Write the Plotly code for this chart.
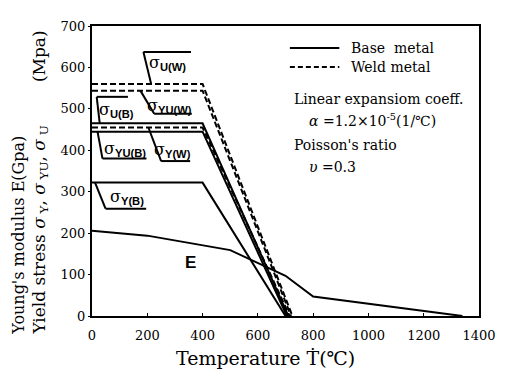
import plotly.graph_objects as go

# ---- data ----
temp_E = [0, 200, 500, 700, 800, 1340]
E_gpa = [206, 194, 159, 97, 47, 0]

stress_names = ["σY(B)", "σYU(B)", "σU(B)", "σY(W)", "σYU(W)", "σU(W)"]
stress_room = [322, 445, 465, 455, 544, 560]      # MPa up to 400 C
stress_knee_T = [400, 400, 400, 400, 400, 400]
stress_zero_T = [700, 705, 710, 715, 720, 725]
stress_kind = ["base", "base", "base", "weld", "weld", "weld"]

x_ticks = [0, 200, 400, 600, 800, 1000, 1200, 1400]
x_ticktext = ["0", "200", "400", "600", "800", "1000", "1200", "1400"]
y_ticks = [0, 100, 200, 300, 400, 500, 600, 700]

SERIF = "DejaVu Serif"
SANS = "Liberation Sans"

fig = go.Figure()

for name, v, tk, tz, kind in zip(stress_names, stress_room, stress_knee_T, stress_zero_T, stress_kind):
    fig.add_trace(go.Scatter(
        x=[0, tk, tz], y=[v, v, 0], mode="lines", name=name, showlegend=False,
        line=dict(color="black", width=2, dash="solid" if kind == "base" else "6px,3px"),
    ))

fig.add_trace(go.Scatter(x=temp_E, y=E_gpa, mode="lines", name="E", showlegend=False,
                         line=dict(color="black", width=2)))

# ---- label callouts (text, text pos, bar, leader) ----
callouts = [
    ("U(W)", 274, 610, (186, 358, 637), (186, 637, 214, 560)),
    ("U(B)", 90, 497, (17, 130, 529), (17, 529, 28, 465)),
    ("YU(W)", 279, 508, (225, 361, 488), (225, 488, 175, 544)),
    ("YU(B)", 118, 402, (38, 197, 380), (38, 380, 20, 445)),
    ("Y(W)", 292, 401, (250, 355, 374), (250, 374, 204, 455)),
    ("Y(B)", 125, 287, (49, 196, 259), (49, 259, 11, 322)),
]
shapes = []
annotations = []
for sub, tx, ty, bar, lead in callouts:
    shapes.append(dict(type="line", xref="x", yref="y", x0=bar[0], x1=bar[1], y0=bar[2], y1=bar[2],
                       line=dict(color="black", width=2)))
    shapes.append(dict(type="line", xref="x", yref="y", x0=lead[0], y0=lead[1], x1=lead[2], y1=lead[3],
                       line=dict(color="black", width=2)))
    annotations.append(dict(
        x=tx, y=ty, xref="x", yref="y", showarrow=False, xanchor="center", yanchor="middle",
        text=f"σ<sub><span style='font-family:{SANS};font-weight:bold'>{sub}</span></sub>",
        font=dict(family=SERIF, size=16, color="black")))

annotations.append(dict(x=355, y=128, xref="x", yref="y", showarrow=False, xanchor="center",
                        yanchor="middle", text="<b>E</b>", font=dict(family=SANS, size=17, color="black")))

# ---- legend (drawn manually) ----
def px_x(p):
    return (p - 92) / 399.0

def px_y(p):
    return (316 - p) / 290.0

shapes.append(dict(type="line", xref="paper", yref="paper", x0=px_x(296), x1=px_x(347),
                   y0=px_y(48), y1=px_y(48), line=dict(color="black", width=2)))
shapes.append(dict(type="line", xref="paper", yref="paper", x0=px_x(296), x1=px_x(347),
                   y0=px_y(67), y1=px_y(67), line=dict(color="black", width=2, dash="5px,3px")))
annotations.append(dict(x=px_x(357), y=px_y(48), xref="paper", yref="paper", xanchor="left",
                        yanchor="middle", showarrow=False, text="Base\u00a0\u00a0metal",
                        font=dict(family=SERIF, size=14, color="black")))
annotations.append(dict(x=px_x(357), y=px_y(67), xref="paper", yref="paper", xanchor="left",
                        yanchor="middle", showarrow=False, text="Weld metal",
                        font=dict(family=SERIF, size=14, color="black")))

info_lines = [
    (298, 99, "Linear expansiom coeff."),
    (314, 120, "<i>α</i>\u00a0=1.2×10<sup>-5</sup>(1/℃)"),
    (298, 145, "Poisson's ratio"),
    (314, 167, "<i>υ</i>\u00a0=0.3"),
]
for x0, y0, t in info_lines:
    annotations.append(dict(x=px_x(x0), y=px_y(y0), xref="paper", yref="paper", xanchor="left",
                            yanchor="middle", showarrow=False, text=t,
                            font=dict(family=SERIF, size=14, color="black")))

# ---- axis titles ----
annotations.append(dict(x=px_x(271), y=px_y(358), xref="paper", yref="paper", showarrow=False,
                        xanchor="center", yanchor="middle",
                        text="Temperature Ṫ(℃)", font=dict(family=SERIF, size=19, color="black")))
annotations.append(dict(x=px_x(16), y=px_y(337), xref="paper", yref="paper", showarrow=False,
                        textangle=-90, xanchor="center", yanchor="bottom",
                        text="Young's modulus E(Gpa)", font=dict(family=SERIF, size=16, color="black")))
NB = "\u00a0"
annotations.append(dict(x=px_x(38), y=px_y(337), xref="paper", yref="paper", showarrow=False,
                        textangle=-90, xanchor="center", yanchor="bottom",
                        text=("Yield stress <i>σ</i><sub>" + NB + "Y</sub>, <i>σ</i><sub>" + NB +
                              "YU</sub>, <i>σ</i><sub>" + NB + "U</sub>" + NB * 8 + "(Mpa)"),
                        font=dict(family=SERIF, size=17, color="black")))

fig.update_layout(
    width=508, height=378,
    margin=dict(l=92, r=17, t=26, b=62),
    paper_bgcolor="white", plot_bgcolor="white",
    showlegend=False,
    shapes=shapes, annotations=annotations,
    xaxis=dict(range=[0, 1400], tickvals=x_ticks, ticktext=x_ticktext, showgrid=False, zeroline=False,
               showline=True, mirror=True, linecolor="black", linewidth=2,
               ticks="inside", ticklen=3, tickcolor="black", ticklabelstandoff=6,
               tickfont=dict(family=SERIF, size=13, color="black")),
    yaxis=dict(range=[0, 700], tickvals=y_ticks, showgrid=False, zeroline=False,
               showline=True, mirror=True, linecolor="black", linewidth=2,
               ticks="outside", ticklen=2, tickcolor="black",
               tickfont=dict(family=SERIF, size=13, color="black")),
)

fig.write_html("out.html")
